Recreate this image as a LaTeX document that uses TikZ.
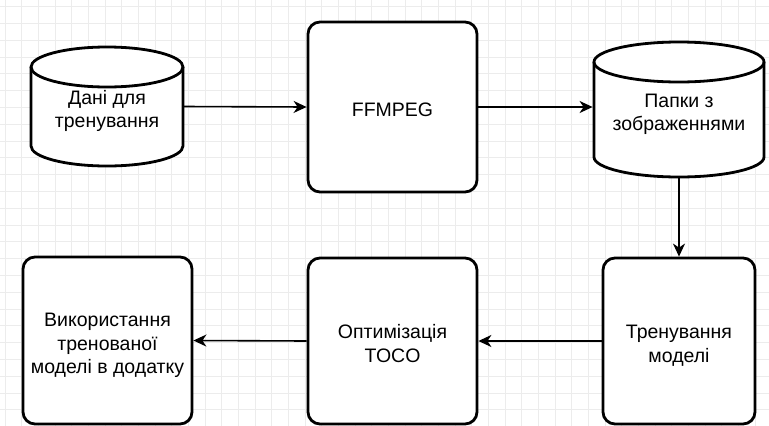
\documentclass[tikz,border=0pt]{standalone}
\usepackage{fontspec}
\setmainfont{Liberation Sans}
\usetikzlibrary{arrows.meta}
\tikzset{
  gridline/.style={draw=gray!15, line width=0.8pt},
  txt/.style={align=center, font=\fontsize{19.5pt}{23.4pt}\selectfont,
    text height=23.5pt, text depth=4.5pt, inner sep=0pt},
  two/.style={text height=46.9pt},
  three/.style={text height=70.3pt},
  boxnode/.style={txt, draw, line width=2.8pt, rounded corners=12pt, fill=white},
  cylnode/.style={inner sep=0pt, outer sep=0pt},
  cylline/.style={draw, line width=2.8pt},
  arr/.style={line width=1.6pt, -{Stealth[length=13pt, width=12pt, inset=4pt]}},
}
\newcommand{\mycyl}[3]{%
  \fill[white] ([yshift=-#3]#1.north west) -- ([yshift=#3]#1.south west)
    arc[start angle=180, end angle=360, x radius=#2, y radius=#3]
    -- ([yshift=-#3]#1.north east)
    arc[start angle=0, end angle=180, x radius=#2, y radius=#3] -- cycle;
  \draw[cylline] ([yshift=-#3]#1.north west) -- ([yshift=#3]#1.south west)
    arc[start angle=180, end angle=360, x radius=#2, y radius=#3]
    -- ([yshift=-#3]#1.north east);
  \draw[cylline] ([yshift=-#3]#1.north) ellipse[x radius=#2, y radius=#3];
}
\begin{document}
\begin{tikzpicture}[x=1pt, y=1pt]
  \useasboundingbox (0,0) rectangle (769,-426);
  \fill[white] (0,0) rectangle (769,-426);
  % grid
  \foreach \i in {0,...,46} \draw[gridline] ({5+16.67*\i},0) -- ++(0,-426);
  \foreach \j in {0,...,25} \draw[gridline] (0,{-6.5-16.8*\j}) -- ++(769,0);

  % cylinders
  \node[cylnode, minimum width=152pt, minimum height=119pt] (c1) at (107,-106.5) {};
  \mycyl{c1}{76pt}{20pt}
  \node[txt, two] (c1t) at (c1.center) {Дані для\\тренування};

  \node[cylnode, minimum width=170pt, minimum height=135pt] (c2) at (679,-109.5) {};
  \mycyl{c2}{85pt}{20pt}
  \node[txt, two] (c2t) at (c2.center) {Папки з\\зображеннями};

  % boxes
  \node[boxnode, minimum width=169pt, minimum height=170pt] (ff) at (392.5,-107) {FFMPEG};
  \node[boxnode, two, minimum width=152pt, minimum height=166pt] (train) at (679,-341) {Тренування\\моделі};
  \node[boxnode, two, minimum width=169pt, minimum height=166pt] (toco) at (392.5,-341) {Оптимізація\\TOCO};
  \node[boxnode, three, minimum width=169pt, minimum height=167pt] (use) at (107.5,-340.5) {Використання\\тренованої\\моделі в додатку};

  % connectors
  \draw[arr] (c1.east) -- (ff.west);
  \draw[arr, shorten >=1.4pt] (ff.east) -- (ff.east -| c2.west);
  \draw[arr] (c2.south) -- (train.north);
  \draw[arr] (train.west) -- (toco.east);
  \draw[arr] (toco.west) -- (use.east);
\end{tikzpicture}
\end{document}
